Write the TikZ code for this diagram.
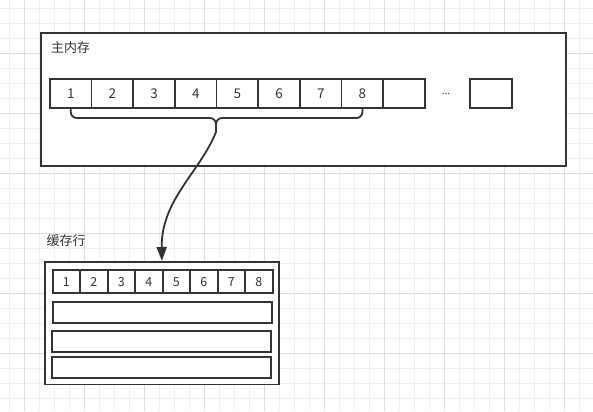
\documentclass[tikz,border=0pt]{standalone}
\usepackage{fontspec}
\setmainfont{Noto Sans CJK SC}
\usetikzlibrary{arrows.meta}
\definecolor{ink}{HTML}{333333}
\definecolor{gridminor}{HTML}{EFEFEF}
\definecolor{gridmajor}{HTML}{DEDEDE}
\tikzset{
  box/.style={draw=ink, line width=1.8bp, fill=white, inner sep=0pt, anchor=north west},
  bigcell/.style={box, minimum width=41.67bp, minimum height=29bp, text=ink, font=\fontsize{13.5}{14}\selectfont},
  smallcell/.style={box, minimum width=27.5bp, minimum height=23bp, text=ink, font=\fontsize{12.5}{13}\selectfont},
  rowbox/.style={box, minimum width=219.6bp, minimum height=20.7bp},
  caption/.style={text=ink, inner sep=0pt, anchor=north west, font=\fontsize{13}{14}\selectfont},
  link/.style={draw=ink, line width=1.8bp},
}
\begin{document}
\begin{tikzpicture}[x=1bp,y=-1bp]
\useasboundingbox (0,0) rectangle (593,411);
\fill[white] (0,0) rectangle (593,411);
% grid
\foreach \x in {9,24,...,593} \draw[gridminor, line width=1bp] (\x,0) -- (\x,411);
\foreach \y in {8,23,...,411} \draw[gridminor, line width=1bp] (0,\y) -- (593,\y);
\foreach \x in {24,84,...,593} \draw[gridmajor, line width=1bp] (\x,0) -- (\x,411);
\foreach \y in {53,113,...,411} \draw[gridmajor, line width=1bp] (0,\y) -- (593,\y);
% main memory
\node[box, minimum width=525bp, minimum height=133bp] (main) at (40,32) {};
\node[caption] (mainlabel) at (51,41.5) {主内存};
\foreach \i [evaluate=\i as \xx using 49+(\i-1)*41.67] in {1,...,8}
  \node[bigcell] (m\i) at (\xx,78) {\i};
\node[bigcell] (m9) at (382.4,78) {};
\node[text=ink, font=\fontsize{10}{10}\selectfont, inner sep=0pt] (dots) at (446,93.5) {...};
\node[bigcell, minimum width=42bp] (mlast) at (469,78) {};
% brace
\coordinate (bmid) at (216,118);
\coordinate (tip) at (216,132);
\draw[link, rounded corners=6bp] (m1.south) |- (bmid) -- (tip);
\draw[link, rounded corners=6bp] (m8.south) |- (bmid) -- (tip);
% cache line
\node[caption] (cachelabel) at (46.5,234.5) {缓存行};
\node[box, minimum width=234bp, minimum height=122.5bp] (cache) at (44,261) {};
\foreach \i [evaluate=\i as \xx using 51.7+(\i-1)*27.5] in {1,...,8}
  \node[smallcell] (c\i) at (\xx,269.3) {\i};
\node[rowbox] (r2) at (51.7,301) {};
\node[rowbox] (r3) at (50.7,330) {};
\node[rowbox] (r4) at (50.7,356) {};
% arrow
\draw[link, -{Triangle[length=14bp,width=10bp]}] (tip) .. controls (200,172) and (161,200) .. (cache.north);
\end{tikzpicture}
\end{document}
